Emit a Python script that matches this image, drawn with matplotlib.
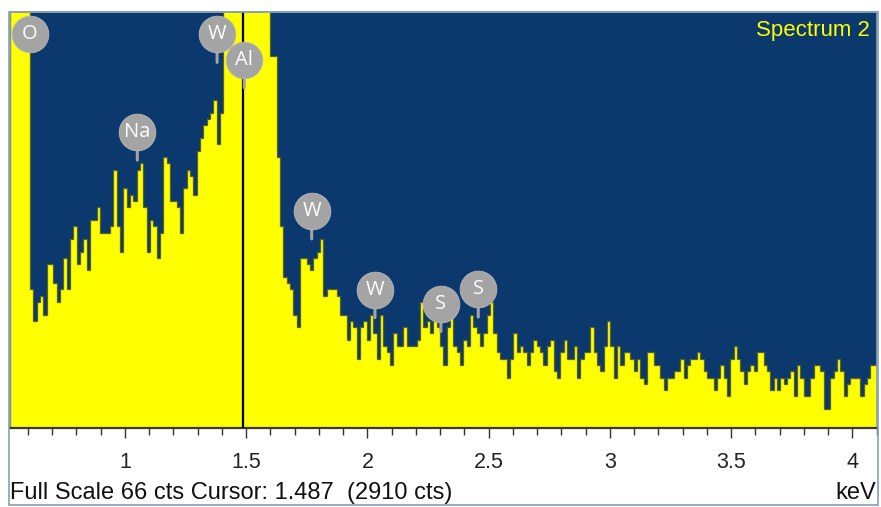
import numpy as np
import matplotlib.pyplot as plt
from matplotlib.patches import Rectangle
from matplotlib.transforms import offset_copy

# EDS spectrum: counts per channel, channels of 0.01375 keV from 0.526 keV
e_start = 0.526
ch_width = 0.01375
full_scale = 66
cursor_kev = 1.487
cursor_cts = 2910

cts_o = [120, 190, 230, 180, 110, 70]  # O peak, off scale
cts_low = [22, 17, 20, 21, 18, 26, 26, 23, 20, 22, 27, 22, 30, 32, 26, 28, 30, 25, 33,
           33, 35, 31, 31, 31, 32, 41, 32, 28, 38, 35, 37, 36, 41, 42, 35, 28, 33, 32]
cts_rise = [27, 31, 43, 42, 36, 36, 35, 31, 38, 41, 40, 37, 44, 46, 48, 49, 50, 52, 45, 50]
cts_al = [70, 90, 140, 300, 900, 2000, 2910, 2600, 1700, 800, 330, 150, 95, 72]
cts_tail = [59, 59, 43, 32, 24, 23, 22, 18, 16]
cts_mid = [27, 27, 26, 25, 27, 28, 30, 21, 22, 22, 22, 21, 18, 18, 14, 17, 16, 11, 16, 17,
           14, 18, 15, 11, 18, 13, 12, 10, 15, 13, 13, 16, 13, 13, 13, 14, 20, 16, 17, 15,
           17, 16, 13, 10, 16, 18, 13, 12, 10, 14, 13, 18, 16, 15, 13, 15, 18, 20, 15, 12,
           11, 11, 8, 11, 15, 12, 13, 12, 10, 12, 14, 13, 12, 10, 13, 14, 9, 8]
cts_high = [12, 14, 11, 11, 13, 8, 11, 12, 12, 16, 12, 10, 9, 13, 17, 13, 8, 13, 10, 12,
            12, 11, 9, 11, 8, 7, 12, 12, 10, 10, 8, 6, 8, 8, 9, 9, 11, 8, 10, 11,
            11, 12, 11, 9, 8, 8, 6, 8, 10, 8, 5, 11, 13, 11, 9, 7, 9, 10, 9, 12,
            12, 10, 9, 6, 8, 6, 8, 7, 8, 9, 5, 10, 8, 5, 5, 8, 10, 10, 9, 3,
            3, 8, 9, 11, 9, 5, 7, 8, 8, 8, 5, 7, 8, 10, 10]

peak_names = ['O', 'W', 'Al', 'Na', 'W', 'W', 'S', 'S']
peak_kev = [0.608, 1.38, 1.492, 1.051, 1.77, 2.031, 2.303, 2.457]
peak_tip = [58, 58, 54, 42.5, 30, 17.5, 15.3, 17.6]
peak_stem = [False, True, True, True, True, True, True, True]

counts = np.array(cts_o + cts_low + cts_rise + cts_al + cts_tail + cts_mid + cts_high, dtype=float)
edges = e_start + ch_width * np.arange(len(counts) + 1)

navy = '#0b386d'
yellow = '#ffff00'
frame_col = '#86a0bb'
bubble = '#a4a4a4'
font = ['Liberation Sans', 'DejaVu Sans']

fig = plt.figure(figsize=(8.81, 5.07), dpi=100)
ax = fig.add_axes([10 / 881, 79 / 507, 867 / 881, 416 / 507])
ax.set_facecolor(navy)

ax.stairs(counts, edges, fill=True, color=yellow, zorder=1)
ax.stairs(counts, edges, color='#55602c', lw=0.9, zorder=2)
ax.axvline(cursor_kev, color='black', lw=1.6, zorder=3)

ax.set_xlim(e_start, e_start + 867 / 242.5)
ax.set_ylim(0, full_scale)

# element bubbles
up_c = offset_copy(ax.transData, fig=fig, x=0, y=20.2, units='points')
for name, kev, tip, stem in zip(peak_names, peak_kev, peak_tip, peak_stem):
    if stem:
        ax.annotate('', xy=(kev, tip), xytext=(0, 9), textcoords='offset points',
                    arrowprops=dict(arrowstyle='-', lw=2.2, color=bubble,
                                    shrinkA=0, shrinkB=0), zorder=4)
    ax.plot(kev, tip, 'o', ms=26.4, color=bubble, mec='#b8b8b8', mew=0.6,
            transform=up_c, zorder=5, clip_on=False)
    ax.text(kev, tip, name, transform=up_c, ha='center', va='center',
            color='white', fontsize=14.5, family='Open Sans', zorder=6)

ax.text(0.992, 0.955, 'Spectrum 2', transform=ax.transAxes, ha='right', va='center',
        color=yellow, fontsize=16, family=font)

ax.set_yticks([])
ax.set_xticks(np.arange(1, 4.01, 0.5))
ax.set_xticks(np.arange(0.6, 4.11, 0.1), minor=True)
ax.set_xticklabels(['1', '1.5', '2', '2.5', '3', '3.5', '4'])
ax.tick_params(axis='x', which='major', length=7.5, width=1, color='#333333',
               pad=10, labelsize=15.5, labelcolor='#222222')
ax.tick_params(axis='x', which='minor', length=5, width=1, color='#333333')
for lab in ax.get_xticklabels():
    lab.set_family(font)

for side in ['top', 'left', 'right']:
    ax.spines[side].set_color(frame_col)
    ax.spines[side].set_linewidth(1.2)
ax.spines['bottom'].set_color('#3a3a28')
ax.spines['bottom'].set_linewidth(1.6)

fig.patches.append(Rectangle((9 / 881, 2 / 507), 869 / 881, 493 / 507, transform=fig.transFigure,
                             fill=False, edgecolor=frame_col, lw=1.2))

fig.text(10 / 881, 14 / 507, 'Full Scale %d cts Cursor: %.3f  (%d cts)' % (full_scale, cursor_kev, cursor_cts),
         ha='left', va='center', fontsize=17, family=font, color='#111111')
fig.text(876 / 881, 14 / 507, 'keV', ha='right', va='center', fontsize=17, family=font, color='#111111')

fig.savefig('out.png', dpi=100)
